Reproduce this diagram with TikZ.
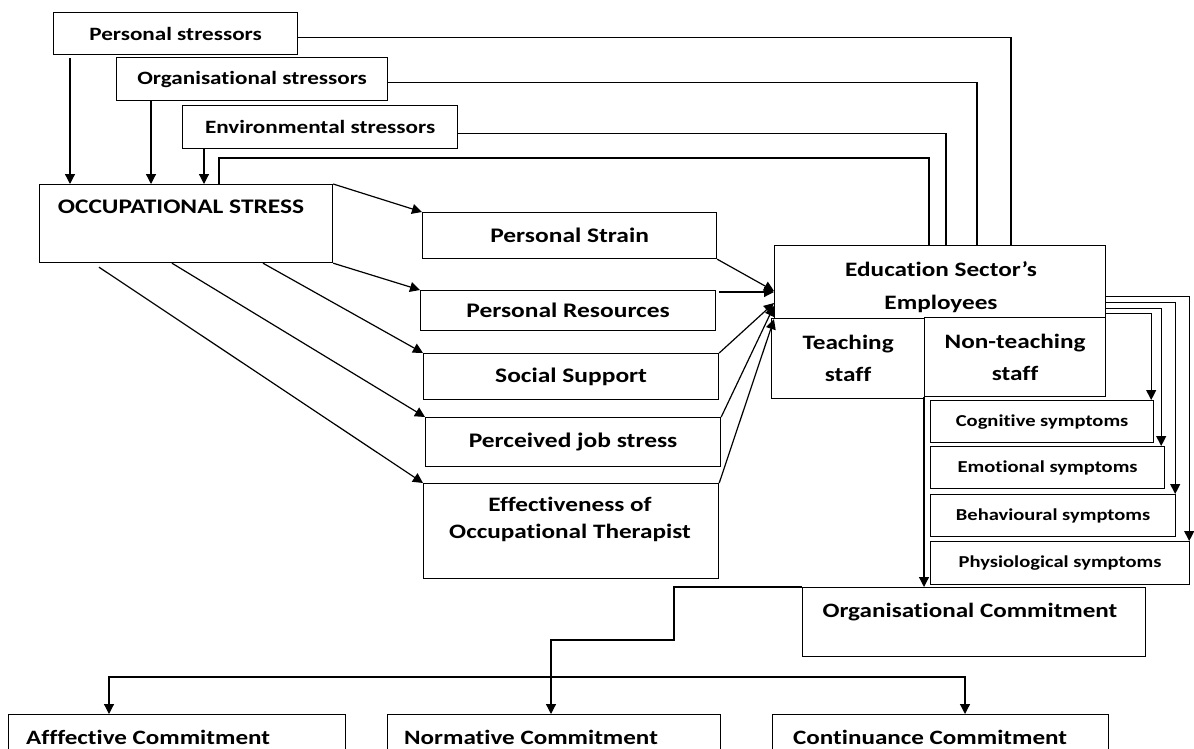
\documentclass[tikz,border=0pt]{standalone}
\usepackage{fontspec}
\setmainfont{Carlito}[FakeStretch=1.23, Ligatures=CommonOff]
\usetikzlibrary{arrows.meta,calc}

\begin{document}
\begin{tikzpicture}[x=1pt,y=-1pt,
  wh/.style 2 args={minimum width=#1pt, minimum height=#2pt},
  box/.style={draw, line width=1.2pt, inner sep=0pt, anchor=north west, align=center, fill=white},
  txt/.style={inner sep=0pt, align=center},
  link/.style={line width=1.2pt},
  arr/.style={line width=1.2pt, -{Triangle[length=10pt,width=10pt]}},
  fS/.style={font=\bfseries\fontsize{18.8}{22}\selectfont},
  fM/.style={font=\bfseries\fontsize{20.7}{27}\selectfont},
  fY/.style={font=\bfseries\fontsize{16.7}{20}\selectfont},
  fL/.style={font=\bfseries\fontsize{20.4}{26}\selectfont},
]
\clip (0,0) rectangle (1194,749);

% stressor boxes
\node[box, fS, wh={244}{42}] (ps)   at (53,12)  {Personal stressors};
\node[box, fS, wh={271}{43}] (orgs) at (116,57) {Organisational stressors};
\node[box, fS, wh={275}{43}] (envs) at (182,105) {Environmental stressors};

% occupational stress
\node[box, wh={293}{78}] (occ) at (39,184) {};
\node[txt, fM] (occtext) at (181,207) {OCCUPATIONAL STRESS};

% middle column
\node[box, fM, wh={294}{46}] (pstrain) at (422,212) {Personal Strain};
\node[box, fM, wh={295}{40}] (pres)    at (420,290) {Personal Resources};
\node[box, fM, wh={295}{46}] (ssup)    at (423,353) {Social Support};
\node[box, fM, wh={295}{49}] (pjs)     at (425,417) {Perceived job stress};
\node[box, wh={295}{95}] (eff)         at (423,483) {};
\node[txt, font=\bfseries\fontsize{20.5}{27}\selectfont] (efftext) at (570,519.5)
  {Effectiveness of\\Occupational Therapist};

% employees
\node[box, wh={331}{73}] (edu) at (774,245) {};
\node[txt, font=\bfseries\fontsize{20.5}{33}\selectfont] (edutext) at (941,287)
  {Education Sector’s\\Employees};
\node[box, font=\bfseries\fontsize{20.5}{32}\selectfont, wh={153}{80}] (tstaff) at (771,318) {Teaching\\staff};
\node[box, font=\bfseries\fontsize{20.5}{32}\selectfont, wh={181}{79}] (ntstaff) at (924,317) {Non-teaching\\staff};

% symptoms
\node[box, fY, wh={223}{42}] (cog) at (930,400) {Cognitive symptoms};
\node[box, fY, wh={234}{42}] (emo) at (930,446) {Emotional symptoms};
\node[box, fY, wh={245}{42}] (beh) at (930,494) {Behavioural symptoms};
\node[box, fY, wh={259}{43}] (phy) at (930,541) {Physiological symptoms};

% commitment
\node[box, wh={343}{69}] (orgc) at (802,587) {};
\node[txt, fL] (orgctext) at (970,612) {Organisational Commitment};
\node[box, wh={337}{60}] (aff)  at (8,714) {};
\node[box, wh={333}{60}] (norm) at (387,714) {};
\node[box, wh={336}{60}] (cont) at (772,714) {};
\node[txt, fL, anchor=west] (afftext)  at (26,737)  {Afffective Commitment};
\node[txt, fL, anchor=west] (normtext) at (404,737) {Normative Commitment};
\node[txt, fL, anchor=west] (conttext) at (793,737) {Continuance Commitment};

% stressors into occupational stress
\draw[arr] ($(ps.south west)+(17,3)$) coordinate (a1) -- (a1 |- occ.north);
\draw[arr] ($(orgs.south west)+(35,0)$) coordinate (a2) -- (a2 |- occ.north);
\draw[arr] ($(envs.south west)+(22,0)$) coordinate (a3) -- (a3 |- occ.north);

% long links to the employees box
\coordinate (j0) at (929,158);
\draw[link] ($(occ.north west)+(180,0)$) |- (j0) -- (j0 |- edu.north);
\draw[link] ($(envs.east)+(0,6.5)$) -| ($(edu.north west)+(172,0)$);
\draw[link] ($(orgs.east)+(0,3.5)$) -| ($(edu.north west)+(203,0)$);
\draw[link] ($(ps.east)+(0,4)$) -| ($(edu.north west)+(237,0)$);

% occupational stress to the middle column
\draw[arr] (occ.north east) -- (pstrain.north west);
\draw[arr] (occ.south east) -- (pres.north west);
\draw[arr] ($(occ.south west)+(224,0)$) -- (ssup.north west);
\draw[arr] ($(occ.south west)+(133,0)$) -- (pjs.north west);
\draw[arr] ($(occ.south west)+(60,4)$) -- (eff.north west);

% middle column to employees
\draw[arr] (pstrain.south east) -- ($(edu.north west)+(0,46)$);
\draw[arr] ($(pres.north east)+(3,2)$) -- ($(edu.north west)+(0,47)$);
\draw[arr] (ssup.north east) -- ($(edu.north west)+(0,58)$);
\draw[arr] (pjs.north east) -- ($(edu.north west)+(0,61)$);
\draw[arr] (eff.north east) -- (edu.south west);

% employees to symptoms
\draw[arr] ($(edu.south east)+(0,-23)$) -| ($(phy.north east)+(-1,0)$);
\draw[arr] ($(edu.south east)+(0,-17)$) -| ($(beh.north east)+(-1,0)$);
\draw[arr] ($(edu.south east)+(0,-11)$) -| ($(emo.north east)+(-4,0)$);
\draw[arr] ($(edu.south east)+(0,-6)$) -| ($(cog.north east)+(-3,0)$);

% staff to organisational commitment
\draw[arr] (ntstaff.south west) -- (ntstaff.south west |- orgc.north);

% organisational commitment to its three kinds
\coordinate (c1) at (674,640);
\coordinate (split) at (551,677);
\draw[arr] (orgc.north west) -| (c1) -| ($(norm.north west)+(164,0)$);
\draw[arr] (split) -| ($(aff.north west)+(101,0)$);
\draw[arr] (split) -| ($(cont.north west)+(193,0)$);
\end{tikzpicture}
\end{document}
